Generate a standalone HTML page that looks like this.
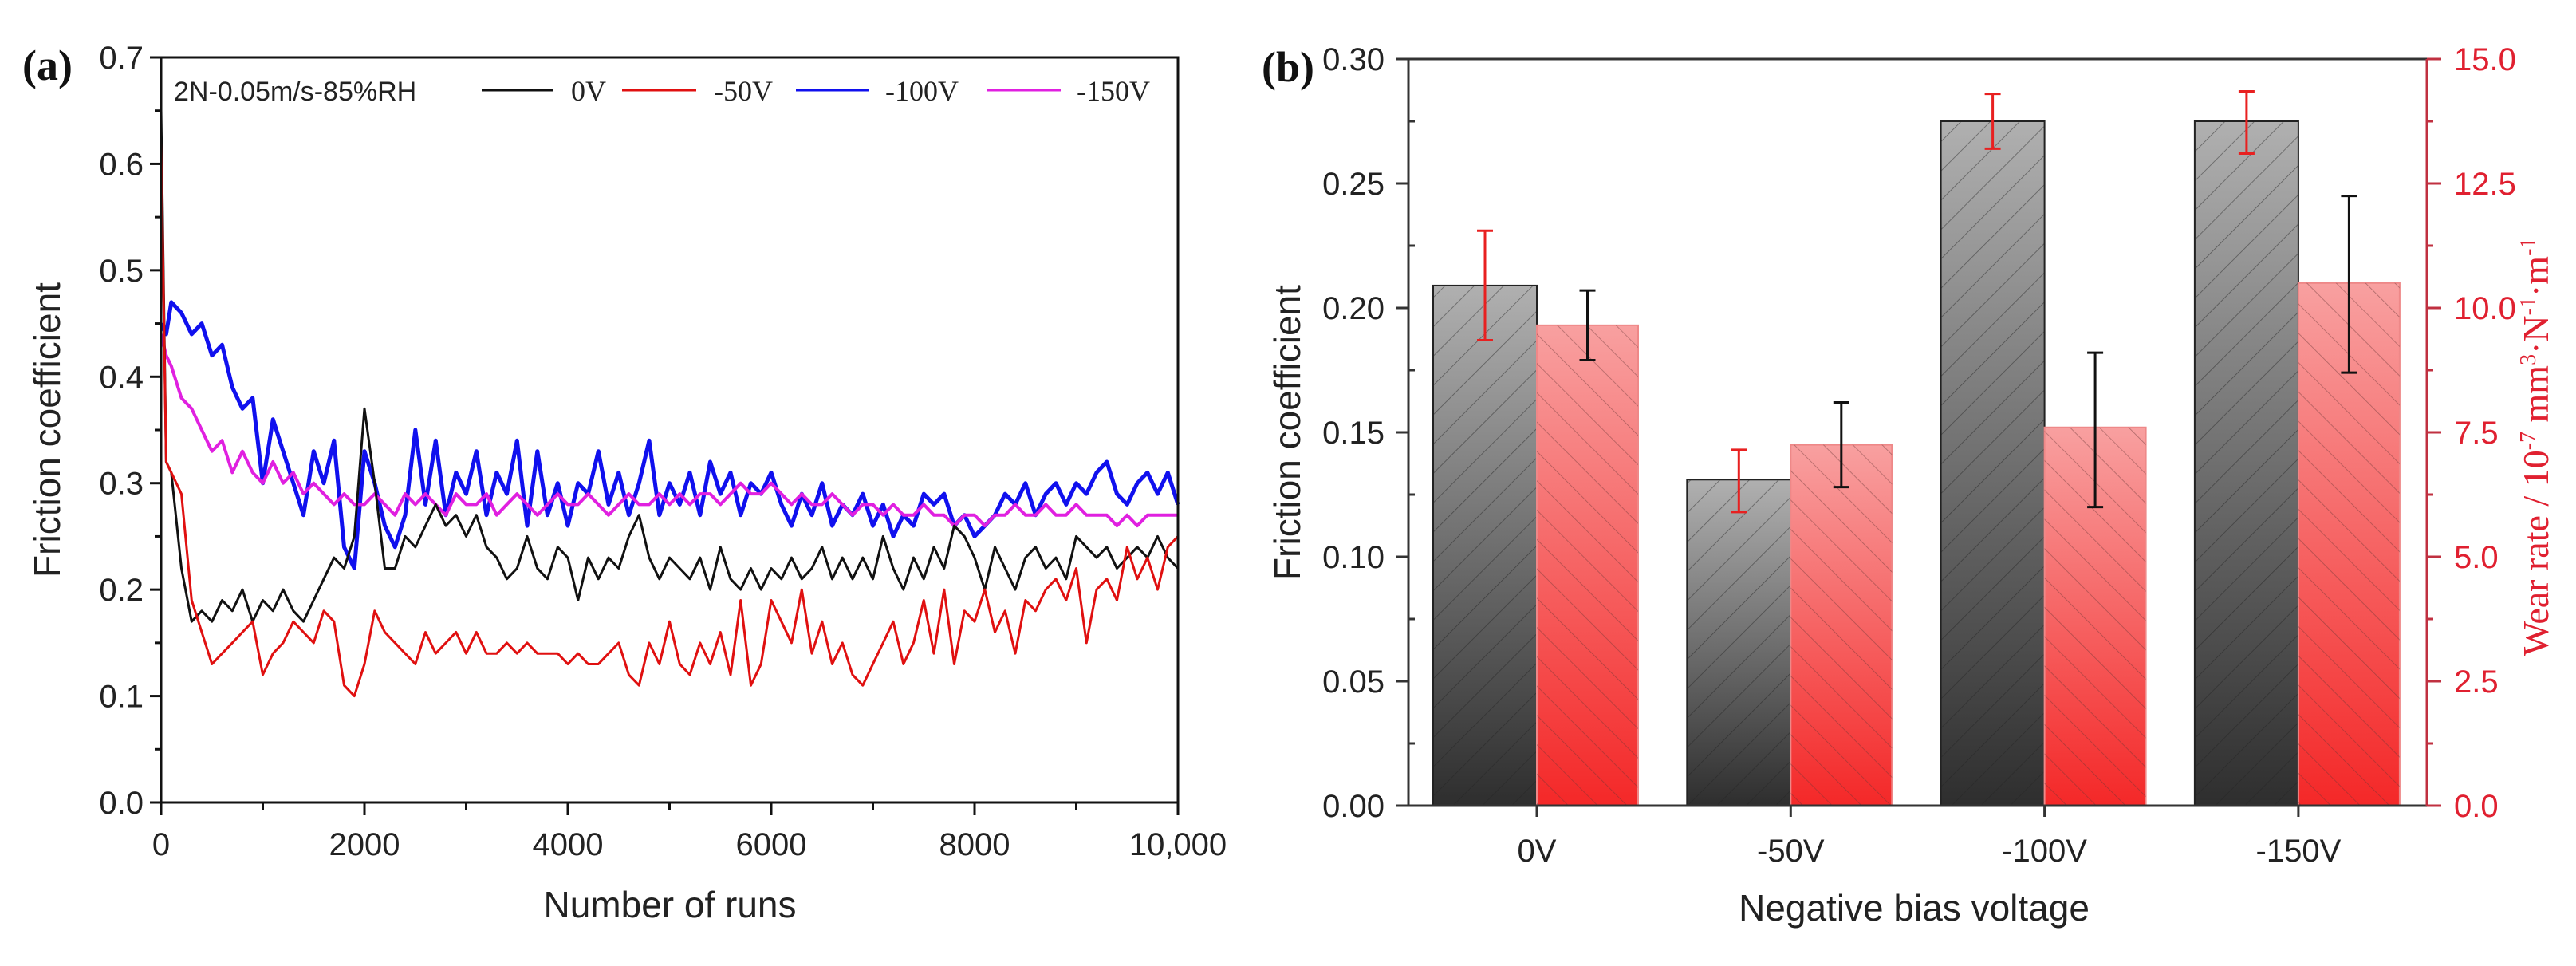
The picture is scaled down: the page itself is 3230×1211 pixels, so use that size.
<!DOCTYPE html>
<html><head><meta charset="utf-8">
<style>
html,body{margin:0;padding:0;background:#fff;}
svg{display:block;}
.t{font-family:"Liberation Sans",Arial,sans-serif;}
.s{font-family:"Liberation Serif","Times New Roman",serif;}
</style></head>
<body>
<svg id="chart" width="3230" height="1211" viewBox="0 0 3230 1211" xmlns="http://www.w3.org/2000/svg">
<defs>
<linearGradient id="gGray" x1="0" y1="0" x2="0" y2="1"><stop offset="0" stop-color="#b0b0b0"/><stop offset="1" stop-color="#2e2e2e"/></linearGradient>
<linearGradient id="gRed" x1="0" y1="0" x2="0" y2="1"><stop offset="0" stop-color="#f8a0a0"/><stop offset="1" stop-color="#f42828"/></linearGradient>
<pattern id="hatchA" width="26" height="26" patternUnits="userSpaceOnUse" patternTransform="rotate(45)"><line x1="0" y1="0" x2="0" y2="26" stroke="#222" stroke-width="1.6" opacity="0.55"/></pattern>
<pattern id="hatchB" width="26" height="26" patternUnits="userSpaceOnUse" patternTransform="rotate(-45)"><line x1="0" y1="0" x2="0" y2="26" stroke="#633" stroke-width="1.6" opacity="0.5"/></pattern>
</defs>
<g id="pa"></g>
<g id="pb"></g>
</svg>
<script>
// ---------- Panel A data ----------
const runs = [0,50,100,200,300,400,500,600,700,800,900,1000,1100,1200,1300,1400,1500,1600,1700,1800,1900,2000,2100,2200,2300,2400,2500,2600,2700,2800,2900,3000,3100,3200,3300,3400,3500,3600,3700,3800,3900,4000,4100,4200,4300,4400,4500,4600,4700,4800,4900,5000,5100,5200,5300,5400,5500,5600,5700,5800,5900,6000,6100,6200,6300,6400,6500,6600,6700,6800,6900,7000,7100,7200,7300,7400,7500,7600,7700,7800,7900,8000,8100,8200,8300,8400,8500,8600,8700,8800,8900,9000,9100,9200,9300,9400,9500,9600,9700,9800,9900,10000];
const fc0V = [0.65,0.32,0.31,0.22,0.17,0.18,0.17,0.19,0.18,0.20,0.17,0.19,0.18,0.20,0.18,0.17,0.19,0.21,0.23,0.22,0.25,0.37,0.30,0.22,0.22,0.25,0.24,0.26,0.28,0.26,0.27,0.25,0.27,0.24,0.23,0.21,0.22,0.25,0.22,0.21,0.24,0.23,0.19,0.23,0.21,0.23,0.22,0.25,0.27,0.23,0.21,0.23,0.22,0.21,0.23,0.20,0.24,0.21,0.20,0.22,0.20,0.22,0.21,0.23,0.21,0.22,0.24,0.21,0.23,0.21,0.23,0.21,0.25,0.22,0.20,0.23,0.21,0.24,0.22,0.26,0.25,0.23,0.20,0.24,0.22,0.20,0.23,0.24,0.22,0.23,0.21,0.25,0.24,0.23,0.24,0.22,0.23,0.24,0.23,0.25,0.23,0.22];
const fc50V = [0.62,0.32,0.31,0.29,0.19,0.16,0.13,0.14,0.15,0.16,0.17,0.12,0.14,0.15,0.17,0.16,0.15,0.18,0.17,0.11,0.10,0.13,0.18,0.16,0.15,0.14,0.13,0.16,0.14,0.15,0.16,0.14,0.16,0.14,0.14,0.15,0.14,0.15,0.14,0.14,0.14,0.13,0.14,0.13,0.13,0.14,0.15,0.12,0.11,0.15,0.13,0.17,0.13,0.12,0.15,0.13,0.16,0.12,0.19,0.11,0.13,0.19,0.17,0.15,0.20,0.14,0.17,0.13,0.15,0.12,0.11,0.13,0.15,0.17,0.13,0.15,0.19,0.14,0.20,0.13,0.18,0.17,0.20,0.16,0.18,0.14,0.19,0.18,0.20,0.21,0.19,0.22,0.15,0.20,0.21,0.19,0.24,0.21,0.23,0.20,0.24,0.25];
const fc100V = [0.45,0.44,0.47,0.46,0.44,0.45,0.42,0.43,0.39,0.37,0.38,0.30,0.36,0.33,0.30,0.27,0.33,0.30,0.34,0.24,0.22,0.33,0.30,0.26,0.24,0.27,0.35,0.28,0.34,0.27,0.31,0.29,0.33,0.27,0.31,0.29,0.34,0.26,0.33,0.27,0.30,0.26,0.30,0.29,0.33,0.28,0.31,0.27,0.30,0.34,0.27,0.30,0.28,0.31,0.27,0.32,0.29,0.31,0.27,0.30,0.29,0.31,0.28,0.26,0.29,0.27,0.30,0.26,0.28,0.27,0.29,0.26,0.28,0.25,0.27,0.26,0.29,0.28,0.29,0.26,0.27,0.25,0.26,0.27,0.29,0.28,0.30,0.27,0.29,0.30,0.28,0.30,0.29,0.31,0.32,0.29,0.28,0.30,0.31,0.29,0.31,0.28];
const fc150V = [0.44,0.42,0.41,0.38,0.37,0.35,0.33,0.34,0.31,0.33,0.31,0.30,0.32,0.30,0.31,0.29,0.30,0.29,0.28,0.29,0.28,0.28,0.29,0.28,0.27,0.29,0.28,0.29,0.28,0.27,0.29,0.28,0.28,0.29,0.27,0.28,0.29,0.28,0.27,0.28,0.29,0.28,0.28,0.29,0.28,0.27,0.28,0.29,0.28,0.28,0.29,0.28,0.29,0.28,0.29,0.29,0.28,0.29,0.30,0.29,0.29,0.30,0.29,0.28,0.29,0.28,0.28,0.29,0.28,0.27,0.28,0.28,0.27,0.28,0.27,0.27,0.28,0.27,0.27,0.26,0.27,0.27,0.26,0.27,0.27,0.28,0.27,0.27,0.28,0.27,0.27,0.28,0.27,0.27,0.27,0.26,0.27,0.26,0.27,0.27,0.27,0.27];
const aYTicks = ["0.0","0.1","0.2","0.3","0.4","0.5","0.6","0.7"];
const aXTicks = ["0","2000","4000","6000","8000","10,000"];
const aXTickVals = [0,2000,4000,6000,8000,10000];

// ---------- Panel B data ----------
const categories = ["0V","-50V","-100V","-150V"];
const friction = [0.209,0.131,0.275,0.275];
const frictionLo = [0.187,0.118,0.264,0.262];
const frictionHi = [0.231,0.143,0.286,0.287];
const wearRate = [9.65,7.25,7.6,10.5];
const wearLo = [8.95,6.4,6.0,8.7];
const wearHi = [10.35,8.1,9.1,12.25];
const bLeftTicks = ["0.00","0.05","0.10","0.15","0.20","0.25","0.30"];
const bRightTicks = ["0.0","2.5","5.0","7.5","10.0","12.5","15.0"];

const NS="http://www.w3.org/2000/svg";
function mk(parent,tag,attrs,text){const e=document.createElementNS(NS,tag);for(const k in attrs)e.setAttribute(k,attrs[k]);if(text!==undefined)e.textContent=text;parent.appendChild(e);return e;}

// ===== Panel A =====
const pa=document.getElementById('pa');
const aL=202,aR=1477,aT=72,aB=1006;
const ax=v=>aL+(v/10000)*(aR-aL);
const ay=v=>aB-(v/0.7)*(aB-aT);
function lineA(vals,color,w,name){
  let d='';vals.forEach((v,i)=>{d+=(i?'L':'M')+ax(runs[i]).toFixed(1)+' '+ay(v).toFixed(1);});
  const p=mk(pa,'path',{d:d,fill:'none',stroke:color,'stroke-width':w,'stroke-linejoin':'round'});
  
  
}
lineA(fc100V,'#1010ee',5,'series-100v');
lineA(fc150V,'#e020e0',4,'series-150v');
lineA(fc0V,'#111',3,'series-0v');
lineA(fc50V,'#e01010',3,'series-50v');
// frame
const fa=mk(pa,'rect',{x:aL,y:aT,width:aR-aL,height:aB-aT,fill:'none',stroke:'#111','stroke-width':3});


aYTicks.forEach((t,i)=>{
  const y=ay(i*0.1);
  mk(pa,'line',{x1:aL-14,x2:aL,y1:y,y2:y,stroke:'#111','stroke-width':3});
  if(i<7){const ym=ay(i*0.1+0.05);mk(pa,'line',{x1:aL-8,x2:aL,y1:ym,y2:ym,stroke:'#111','stroke-width':3});}
  const tx=mk(pa,'text',{x:aL-22,y:y+14,'text-anchor':'end','font-size':40,fill:'#222',class:'t'},t);
  
  
});
aXTickVals.forEach((v,i)=>{
  const x=ax(v);
  mk(pa,'line',{x1:x,x2:x,y1:aB,y2:aB+16,stroke:'#111','stroke-width':3});
  if(i<5){const xm=ax(v+1000);mk(pa,'line',{x1:xm,x2:xm,y1:aB,y2:aB+10,stroke:'#111','stroke-width':3});}
  const tx=mk(pa,'text',{x:x,y:1072,'text-anchor':'middle','font-size':40,fill:'#222',class:'t'},aXTicks[i]);
  
  
});
</script>
<script>
(function(){
const pa=document.getElementById('pa');
pa.insertAdjacentHTML('beforeend',
'<text x="28" y="100" class="s" font-size="54" font-weight="bold" fill="#111">(a)</text>'+
'<text x="840" y="1150" class="t" font-size="46" text-anchor="middle" fill="#222">Number of runs</text>'+
'<text transform="translate(75,539) rotate(-90)" class="t" font-size="46" text-anchor="middle" fill="#222">Friction coefficient</text>'+
'<g>'+
'<text x="218" y="126" class="t" font-size="34" fill="#222">2N-0.05m/s-85%RH</text>'+
'<line x1="604" x2="694" y1="113" y2="113" stroke="#111" stroke-width="3"/>'+
'<text x="716" y="126" class="s" font-size="36" fill="#222">0V</text>'+
'<line x1="780" x2="873" y1="113" y2="113" stroke="#e01010" stroke-width="3"/>'+
'<text x="895" y="126" class="s" font-size="36" fill="#222">-50V</text>'+
'<line x1="998" x2="1090" y1="113" y2="113" stroke="#1010ee" stroke-width="3"/>'+
'<text x="1110" y="126" class="s" font-size="36" fill="#222">-100V</text>'+
'<line x1="1237" x2="1330" y1="113" y2="113" stroke="#e020e0" stroke-width="3"/>'+
'<text x="1350" y="126" class="s" font-size="36" fill="#222">-150V</text>'+
'</g>');
})();

// ===== Panel B =====
const pb=document.getElementById('pb');
const bL=1766,bR=3043,bT=74,bB=1010;
const catX=i=>1927+i*318.3;
const byL=v=>bB-(v/0.30)*(bB-bT);
const byR=v=>bB-(v/15)*(bB-bT);
const gW=130,rW=127;
categories.forEach((c,i)=>{
  const cx=catX(i);
  const y1=byL(friction[i]);
  const g=mk(pb,'rect',{x:cx-gW,y:y1,width:gW,height:bB-y1,fill:'url(#gGray)',stroke:'#222','stroke-width':2});
  
  
  mk(pb,'rect',{x:cx-gW,y:y1,width:gW,height:bB-y1,fill:'url(#hatchA)'});
  const y2=byR(wearRate[i]);
  const r=mk(pb,'rect',{x:cx,y:y2,width:rW,height:bB-y2,fill:'url(#gRed)',stroke:'#e88','stroke-width':2});
  
  
  mk(pb,'rect',{x:cx,y:y2,width:rW,height:bB-y2,fill:'url(#hatchB)'});
  const ex1=cx-gW/2, ea=byL(frictionLo[i]), eb=byL(frictionHi[i]);
  const e1=mk(pb,'path',{d:`M${ex1} ${ea}V${eb}M${ex1-10} ${ea}h20M${ex1-10} ${eb}h20`,stroke:'#e82020','stroke-width':3,fill:'none'});
  
  
  const ex2=cx+rW/2, ec=byR(wearLo[i]), ed=byR(wearHi[i]);
  const e2=mk(pb,'path',{d:`M${ex2} ${ec}V${ed}M${ex2-10} ${ec}h20M${ex2-10} ${ed}h20`,stroke:'#111','stroke-width':3,fill:'none'});
  
  
  mk(pb,'line',{x1:cx,x2:cx,y1:bB,y2:bB+14,stroke:'#333','stroke-width':3});
  const tx=mk(pb,'text',{x:cx,y:1080,'text-anchor':'middle','font-size':40,fill:'#222',class:'t'},c);
  
  
});
mk(pb,'line',{x1:bL,x2:bR,y1:bT,y2:bT,stroke:'#333','stroke-width':3});
mk(pb,'line',{x1:bL,x2:bR,y1:bB,y2:bB,stroke:'#333','stroke-width':3});
const la=mk(pb,'line',{x1:bL,x2:bL,y1:bT,y2:bB,stroke:'#333','stroke-width':3});


const ra=mk(pb,'line',{x1:bR,x2:bR,y1:bT,y2:bB,stroke:'#c03040','stroke-width':3});


bLeftTicks.forEach((t,i)=>{
  const y=byL(i*0.05);
  mk(pb,'line',{x1:bL-16,x2:bL,y1:y,y2:y,stroke:'#333','stroke-width':3});
  if(i<6){const ym=byL(i*0.05+0.025);mk(pb,'line',{x1:bL,x2:bL+8,y1:ym,y2:ym,stroke:'#333','stroke-width':3});}
  const tx=mk(pb,'text',{x:bL-30,y:y+14,'text-anchor':'end','font-size':40,fill:'#222',class:'t'},t);
  
  
});
bRightTicks.forEach((t,i)=>{
  const y=byR(i*2.5);
  mk(pb,'line',{x1:bR,x2:bR+18,y1:y,y2:y,stroke:'#c03040','stroke-width':3});
  if(i<6){const ym=byR(i*2.5+1.25);mk(pb,'line',{x1:bR,x2:bR+8,y1:ym,y2:ym,stroke:'#c03040','stroke-width':3});}
  const tx=mk(pb,'text',{x:bR+34,y:y+14,'text-anchor':'start','font-size':40,fill:'#e02030',class:'t'},t);
  
  
});
pb.insertAdjacentHTML('beforeend',
'<text x="1582" y="102" class="s" font-size="54" font-weight="bold" fill="#111">(b)</text>'+
'<text x="2400" y="1154" class="t" font-size="46" text-anchor="middle" fill="#222">Negative bias voltage</text>'+
'<text transform="translate(1630,542) rotate(-90)" class="t" font-size="46" text-anchor="middle" fill="#222">Friction coefficient</text>'+
'<text transform="translate(3195,560) rotate(-90)" class="s" font-size="46" text-anchor="middle" fill="#e02030">Wear rate / 10<tspan dy="-16" font-size="28">-7</tspan><tspan dy="16"> mm</tspan><tspan dy="-16" font-size="28">3</tspan><tspan dy="16">·N</tspan><tspan dy="-16" font-size="28">-1</tspan><tspan dy="16">·m</tspan><tspan dy="-16" font-size="28">-1</tspan></text>');
</script>
</body></html>
